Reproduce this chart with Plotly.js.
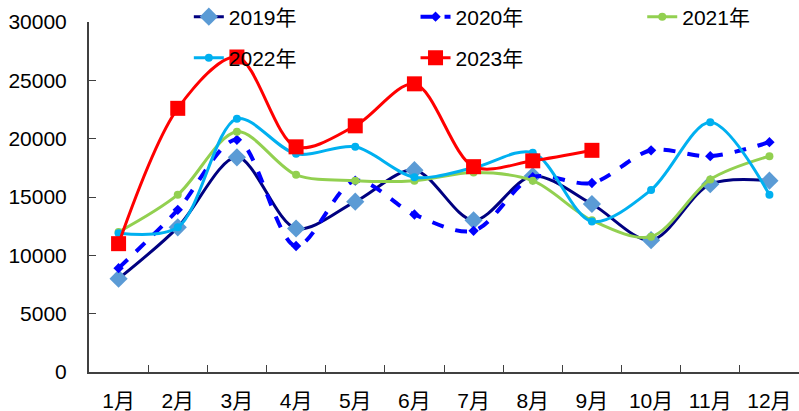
<!DOCTYPE html>
<html>
<head>
<meta charset="utf-8">
<script src="https://cdn.plot.ly/plotly-3.0.1.min.js"></script>
<style>
  html, body { margin: 0; padding: 0; background: #fff; }
  #chart { width: 799px; height: 411px; }
</style>
</head>
<body>
<div id="chart"></div>
<script>
// Monthly values by year
const months = ['1月','2月','3月','4月','5月','6月','7月','8月','9月','10月','11月','12月'];
const y2019 = [8000, 12400, 18400, 12300, 14600, 17300, 13000, 16800, 14400, 11300, 16100, 16400];
const y2020 = [8900, 13900, 19900, 10800, 16400, 13500, 12100, 16700, 16200, 19000, 18500, 19700];
const y2021 = [12000, 15200, 20600, 16900, 16400, 16400, 17100, 16400, 13000, 11600, 16500, 18500];
const y2022 = [11900, 12400, 21700, 18700, 19300, 16700, 17500, 18800, 12900, 15600, 21400, 15200];
const y2023 = [11000, 22600, 27000, 19300, 21100, 24700, 17600, 18100, 19000];
const yTicks = [0, 5000, 10000, 15000, 20000, 25000, 30000];

const FONT = 'Arial, "Liberation Sans", "Noto Sans CJK SC", sans-serif';
const FS = 21;
const AXIS = '#404040';

function series(name, ys, lineColor, dash, width, symbol, mSize, mColor, legendId) {
  return {
    type: 'scatter', mode: 'lines+markers', name: name,
    x: months.slice(0, ys.length), y: ys,
    line: { color: lineColor, width: width, dash: dash, shape: 'spline', smoothing: 0.9 },
    marker: { symbol: symbol, size: mSize, color: mColor, line: { width: 0 } },
    legend: legendId
  };
}

const traces = [
  series('2019年', y2019, '#000080', 'solid', 3, 'diamond', 14, '#5B9BD5', 'legend'),
  series('2020年', y2020, '#0000FF', 'dash', 4, 'diamond', 8, '#0000FF', 'legend2'),
  series('2021年', y2021, '#92D050', 'solid', 3, 'circle', 8, '#92D050', 'legend3'),
  series('2022年', y2022, '#00B0F0', 'solid', 3, 'circle', 8, '#00B0F0', 'legend4'),
  series('2023年', y2023, '#FF0000', 'solid', 3, 'square', 15, '#FF0000', 'legend5')
];

// one legend box per series, laid out as a 3 + 2 grid above the plot
function legendAt(x, y) {
  return {
    x: x, y: y, xanchor: 'left', yanchor: 'middle',
    orientation: 'h', bgcolor: 'rgba(0,0,0,0)', borderwidth: 0,
    font: { family: FONT, size: FS, color: '#000' }, itemclick: false
  };
}

const layout = {
  width: 799, height: 411,
  margin: { l: 89, r: 0, t: 22, b: 39, autoexpand: false },
  paper_bgcolor: '#fff', plot_bgcolor: '#fff',
  font: { family: FONT, size: FS, color: '#000' },
  showlegend: true,
  legend:  legendAt(0.1406, 1.0143),
  legend2: legendAt(0.4599, 1.0143),
  legend3: legendAt(0.7792, 1.0143),
  legend4: legendAt(0.1406, 0.8971),
  legend5: legendAt(0.4599, 0.8971),
  xaxis: {
    type: 'category', range: [-0.5, 11.5],
    showgrid: false, zeroline: false,
    showline: true, linecolor: AXIS, linewidth: 2,
    ticks: 'inside', ticklen: 7, tickcolor: AXIS, tickwidth: 1,
    tickson: 'boundaries', ticklabelstandoff: 9,
    tickfont: { family: FONT, size: FS, color: '#000' }
  },
  yaxis: {
    range: [0, 30000], tickvals: yTicks, ticktext: yTicks.map(String),
    showgrid: false, zeroline: false,
    showline: true, linecolor: AXIS, linewidth: 2,
    ticks: 'inside', ticklen: 7, tickcolor: AXIS, tickwidth: 1,
    ticklabelstandoff: 16,
    tickfont: { family: FONT, size: FS, color: '#000' }
  }
};

Plotly.newPlot('chart', traces, layout, { displayModeBar: false, staticPlot: true });
</script>
</body>
</html>
